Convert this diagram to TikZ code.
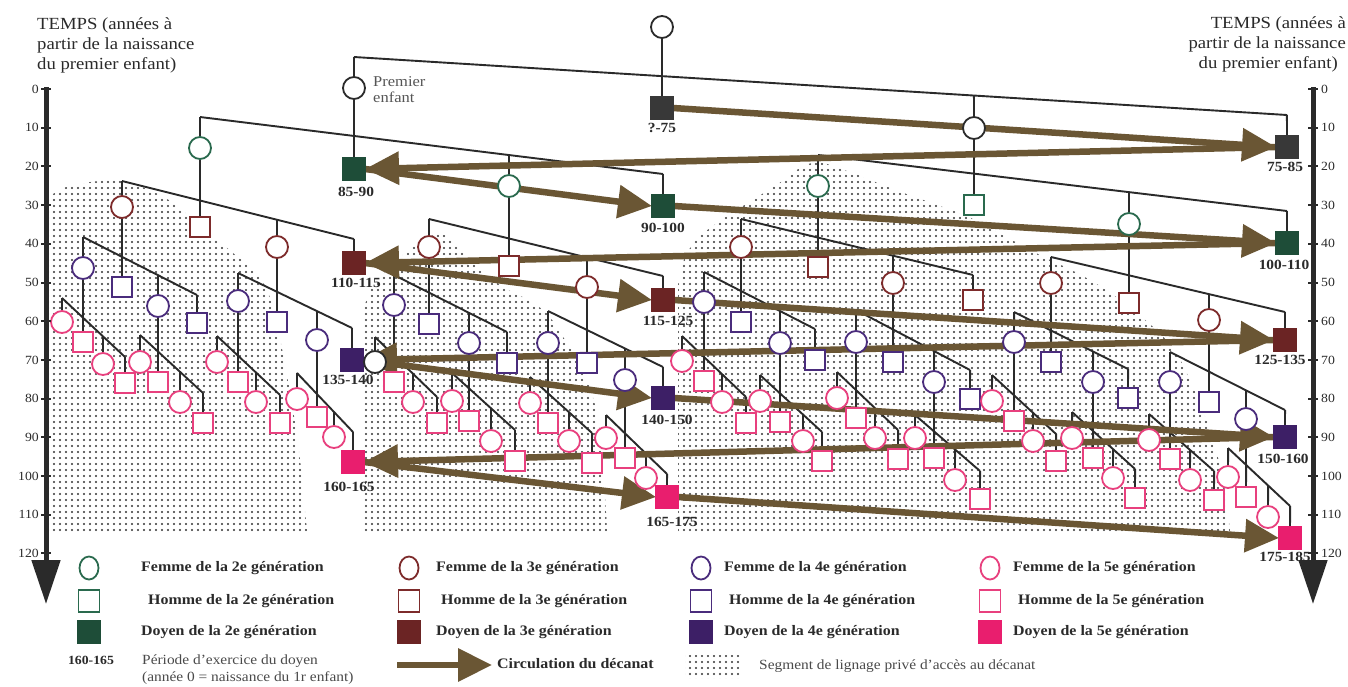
\documentclass[tikz,border=0pt]{standalone}
\usepackage{fontspec}
\setmainfont{Liberation Serif}[FakeStretch=1.1]
\usetikzlibrary{arrows.meta,patterns.meta,shapes.geometric}

\definecolor{ink}{HTML}{2A2A2A}
\definecolor{txt}{HTML}{2A2A2A}
\definecolor{gone}{HTML}{2B2B2B}
\definecolor{gonef}{HTML}{383838}
\definecolor{gtwo}{HTML}{2A6A4E}
\definecolor{gtwof}{HTML}{1E4D38}
\definecolor{gthree}{HTML}{7D2B2B}
\definecolor{gthreef}{HTML}{6B2424}
\definecolor{gfour}{HTML}{4A2C7C}
\definecolor{gfourf}{HTML}{3D1F66}
\definecolor{gfive}{HTML}{E8407E}
\definecolor{gfivef}{HTML}{E91E6E}
\definecolor{flow}{HTML}{6A5634}
\definecolor{stip}{HTML}{333333}

\pgfdeclarelayer{stipple}
\pgfdeclarelayer{lineage}
\pgfdeclarelayer{flows}
\pgfsetlayers{stipple,lineage,flows,main}

% sibling line of one family: children <prefix>a..d hang from it,
% the mother's stem runs down to child <prefix>b
\newcommand\kinfam[4]{%
  \coordinate (#2s) at #3;
  \coordinate (#2e) at #4;
  \draw[kin] (#2s) -- (#2e);
  \foreach \ch in {a,b,c,d}{%
    \draw[kin] (#2\ch.north) -- (intersection of #2s--#2e and #2\ch.north--#2\ch.south);}
  \draw[kin] (#1.south) -- (#2b.north);
}

\tikzset{
  person/.style={inner sep=0pt, outer sep=0pt, line width=1.8pt, fill=white},
  fem/.style={person, circle, minimum size=22pt},
  hom/.style={person, rectangle, minimum size=20pt},
  doy/.style={person, rectangle, minimum size=22pt},
  f1/.style={fem, draw=gone},
  d1/.style={doy, draw=gonef, fill=gonef},
  f2/.style={fem, draw=gtwo},
  h2/.style={hom, draw=gtwo},
  d2/.style={doy, draw=gtwof, fill=gtwof},
  f3/.style={fem, draw=gthree},
  h3/.style={hom, draw=gthree},
  d3/.style={doy, draw=gthreef, fill=gthreef},
  f4/.style={fem, draw=gfour},
  h4/.style={hom, draw=gfour},
  d4/.style={doy, draw=gfourf, fill=gfourf},
  f5/.style={fem, draw=gfive},
  h5/.style={hom, draw=gfive},
  d5/.style={doy, draw=gfivef, fill=gfivef},
  kin/.style={draw=ink, line width=1.9pt},
  dec/.style={draw=flow, line width=6.5pt, -{Triangle[length=34pt,width=32pt]}},
  axisline/.style={draw=ink, line width=5pt, -{Triangle[length=44pt,width=28pt]}},
  tick/.style={draw=ink, line width=2pt},
  dots/.style={pattern={Dots[radius=1.15pt,distance=6pt]}, pattern color=stip},
  lab/.style={font=\bfseries\fontsize{14}{14}\selectfont, text=txt, inner sep=0pt},
  ttl/.style={font=\fontsize{17}{20}\selectfont, text=txt, inner sep=0pt},
  axn/.style={font=\fontsize{12.5}{13}\selectfont, text=txt, inner sep=0pt},
  leg/.style={font=\bfseries\fontsize{14.5}{16}\selectfont, text=txt, inner sep=0pt, anchor=west},
  note/.style={font=\fontsize{14}{16}\selectfont, text=txt!85, inner sep=0pt, anchor=west},
  lfem/.style={person, ellipse, minimum width=19pt, minimum height=23pt},
  lhom/.style={person, rectangle, minimum width=21pt, minimum height=22pt},
  ldoy/.style={person, rectangle, minimum width=22pt, minimum height=22pt},
}

\begin{document}
\begin{tikzpicture}[x=1pt,y=-1pt]
\useasboundingbox (0,0) rectangle (1348,686);

% ---------------- generation 1
\node[f1] (t0) at (662,27) {};
\node[f1] (ka) at (354,88) {};
\node[d1] (kb) at (662,108) {};
\node[f1] (kc) at (974,128) {};
\node[d1] (kd) at (1287,147) {};
% ---------------- generation 2
\node[f2] (g1a) at (200,148) {};
\node[d2] (g1b) at (354,169) {};
\node[f2] (g1c) at (509,186) {};
\node[d2] (g1d) at (663,206) {};
\node[f2] (g2a) at (818,186) {};
\node[h2] (g2b) at (974,205) {};
\node[f2] (g2c) at (1129,224) {};
\node[d2] (g2d) at (1287,243) {};
% ---------------- generation 3
\node[f3] (b1a) at (122,207) {};
\node[h3] (b1b) at (200,227) {};
\node[f3] (b1c) at (277,247) {};
\node[d3] (b1d) at (354,263) {};
\node[f3] (b2a) at (429,247) {};
\node[h3] (b2b) at (509,266) {};
\node[f3] (b2c) at (587,287) {};
\node[d3] (b2d) at (663,300) {};
\node[f3] (b3a) at (741,247) {};
\node[h3] (b3b) at (818,267) {};
\node[f3] (b3c) at (893,283) {};
\node[h3] (b3d) at (973,300) {};
\node[f3] (b4a) at (1051,283) {};
\node[h3] (b4b) at (1129,303) {};
\node[f3] (b4c) at (1209,320) {};
\node[d3] (b4d) at (1285,340) {};
% ---------------- generation 4
\node[f4] (q1a) at (83,268) {};
\node[h4] (q1b) at (122,287) {};
\node[f4] (q1c) at (158,306) {};
\node[h4] (q1d) at (197,323) {};
\node[f4] (q2a) at (238,301) {};
\node[h4] (q2b) at (277,322) {};
\node[f4] (q2c) at (317,340) {};
\node[d4] (q2d) at (352,360) {};
\node[f4] (q3a) at (394,305) {};
\node[h4] (q3b) at (429,324) {};
\node[f4] (q3c) at (469,343) {};
\node[h4] (q3d) at (507,363) {};
\node[f4] (q4a) at (548,343) {};
\node[h4] (q4b) at (587,363) {};
\node[f4] (q4c) at (625,380) {};
\node[d4] (q4d) at (663,398) {};
\node[f4] (q5a) at (704,302) {};
\node[h4] (q5b) at (741,322) {};
\node[f4] (q5c) at (780,343) {};
\node[h4] (q5d) at (815,360) {};
\node[f4] (q6a) at (856,342) {};
\node[h4] (q6b) at (893,362) {};
\node[f4] (q6c) at (934,382) {};
\node[h4] (q6d) at (970,399) {};
\node[f4] (q7a) at (1014,342) {};
\node[h4] (q7b) at (1051,362) {};
\node[f4] (q7c) at (1093,382) {};
\node[h4] (q7d) at (1128,398) {};
\node[f4] (q8a) at (1170,382) {};
\node[h4] (q8b) at (1209,402) {};
\node[f4] (q8c) at (1246,419) {};
\node[d4] (q8d) at (1285,437) {};
% ---------------- generation 5
\node[f5] (r1a) at (62,322) {};   \node[h5] (r1b) at (83,342) {};
\node[f5] (r1c) at (103,364) {};  \node[h5] (r1d) at (125,383) {};
\node[f5] (r2a) at (140,362) {};  \node[h5] (r2b) at (158,382) {};
\node[f5] (r2c) at (180,402) {};  \node[h5] (r2d) at (203,423) {};
\node[f5] (r3a) at (217,362) {};  \node[h5] (r3b) at (238,382) {};
\node[f5] (r3c) at (256,402) {};  \node[h5] (r3d) at (280,423) {};
\node[f5] (r4a) at (297,399) {};  \node[h5] (r4b) at (317,417) {};
\node[f5] (r4c) at (334,437) {};  \node[d5] (r4d) at (353,462) {};
\node[f1] (r5a) at (375,362) {};  \node[h5] (r5b) at (394,382) {};
\node[f5] (r5c) at (413,402) {};  \node[h5] (r5d) at (437,423) {};
\node[f5] (r6a) at (452,401) {};  \node[h5] (r6b) at (469,421) {};
\node[f5] (r6c) at (491,441) {};  \node[h5] (r6d) at (515,461) {};
\node[f5] (r7a) at (530,403) {};  \node[h5] (r7b) at (548,423) {};
\node[f5] (r7c) at (569,441) {};  \node[h5] (r7d) at (592,463) {};
\node[f5] (r8a) at (606,438) {};  \node[h5] (r8b) at (625,458) {};
\node[f5] (r8c) at (646,478) {};  \node[d5] (r8d) at (667,497) {};
\node[f5] (r9a) at (682,361) {};  \node[h5] (r9b) at (704,381) {};
\node[f5] (r9c) at (722,402) {};  \node[h5] (r9d) at (746,423) {};
\node[f5] (r10a) at (760,401) {}; \node[h5] (r10b) at (780,422) {};
\node[f5] (r10c) at (803,441) {}; \node[h5] (r10d) at (822,461) {};
\node[f5] (r11a) at (837,398) {}; \node[h5] (r11b) at (856,418) {};
\node[f5] (r11c) at (875,438) {}; \node[h5] (r11d) at (898,459) {};
\node[f5] (r12a) at (915,438) {}; \node[h5] (r12b) at (934,458) {};
\node[f5] (r12c) at (955,480) {}; \node[h5] (r12d) at (980,499) {};
\node[f5] (r13a) at (992,401) {}; \node[h5] (r13b) at (1014,421) {};
\node[f5] (r13c) at (1033,441) {};\node[h5] (r13d) at (1056,461) {};
\node[f5] (r14a) at (1072,438) {};\node[h5] (r14b) at (1093,458) {};
\node[f5] (r14c) at (1113,478) {};\node[h5] (r14d) at (1135,498) {};
\node[f5] (r15a) at (1149,440) {};\node[h5] (r15b) at (1170,459) {};
\node[f5] (r15c) at (1190,480) {};\node[h5] (r15d) at (1214,500) {};
\node[f5] (r16a) at (1228,477) {};\node[h5] (r16b) at (1246,497) {};
\node[f5] (r16c) at (1268,517) {};\node[d5] (r16d) at (1290,538) {};

% ---------------- terms of office
\node[lab] (p0) at (662,128) {?-75};
\node[lab] (p1) at (1285,167) {75-85};
\node[lab] (p2) at (356,192) {85-90};
\node[lab] (p3) at (663,228) {90-100};
\node[lab] (p4) at (1284,265) {100-110};
\node[lab] (p5) at (356,283) {110-115};
\node[lab] (p6) at (668,321) {115-125};
\node[lab] (p7) at (1280,360) {125-135};
\node[lab] (p8) at (348,380) {135-140};
\node[lab] (p9) at (667,420) {140-150};
\node[lab] (p10) at (1283,459) {150-160};
\node[lab] (p11) at (349,487) {160-165};
\node[lab] (p12) at (672,522) {165-175};
\node[lab] (p13) at (1285,557) {175-185};

\node[font=\fontsize{15}{16}\selectfont, text=txt!80, inner sep=0pt, anchor=base west] (pe1) at (373,86) {Premier};
\node[font=\fontsize{15}{16}\selectfont, text=txt!80, inner sep=0pt, anchor=base west] (pe2) at (373,102) {enfant};

% ---------------- time axes
\node[ttl, anchor=base west] (tl1) at (37,29) {TEMPS (années à};
\node[ttl, anchor=base west] (tl2) at (37,49) {partir de la naissance};
\node[ttl, anchor=base west] (tl3) at (37,69) {du premier enfant)};
\node[ttl, anchor=base east] (tr1) at (1346,28) {TEMPS (années à};
\node[ttl, anchor=base east] (tr2) at (1346,48) {partir de la naissance};
\node[ttl, anchor=base east] (tr3) at (1338,68) {du premier enfant)};

\coordinate (la0) at (46,87);  \coordinate (la1) at (46,604);
\coordinate (ra0) at (1313,87); \coordinate (ra1) at (1313,604);
\draw[axisline] (la0) -- (la1);
\draw[axisline] (ra0) -- (ra1);
\foreach \t in {0,10,...,120}{
  \draw[tick] ({41},{89+3.87*\t}) -- ({51},{89+3.87*\t});
  \draw[tick] ({1308},{89+3.87*\t}) -- ({1318},{89+3.87*\t});
  \node[axn, anchor=east] (ln\t) at ({39},{89+3.87*\t}) {\t};
  \node[axn, anchor=west] (rn\t) at ({1321},{89+3.87*\t}) {\t};
}

% ---------------- legend
\node[lfem, draw=gtwo] (lg1) at (89,568) {};
\node[lhom, draw=gtwo] (lg2) at (89,601) {};
\node[ldoy, draw=gtwof, fill=gtwof] (lg3) at (89,632) {};
\node[leg] (lt1) at (141,568) {Femme de la 2e génération};
\node[leg] (lt2) at (148,601) {Homme de la 2e génération};
\node[leg] (lt3) at (141,632) {Doyen de la 2e génération};

\node[lfem, draw=gthree] (lg4) at (409,568) {};
\node[lhom, draw=gthree] (lg5) at (409,601) {};
\node[ldoy, draw=gthreef, fill=gthreef] (lg6) at (409,632) {};
\node[leg] (lt4) at (436,568) {Femme de la 3e génération};
\node[leg] (lt5) at (441,601) {Homme de la 3e génération};
\node[leg] (lt6) at (436,632) {Doyen de la 3e génération};

\node[lfem, draw=gfour] (lg7) at (701,568) {};
\node[lhom, draw=gfour] (lg8) at (701,601) {};
\node[ldoy, draw=gfourf, fill=gfourf] (lg9) at (701,632) {};
\node[leg] (lt7) at (724,568) {Femme de la 4e génération};
\node[leg] (lt8) at (729,601) {Homme de la 4e génération};
\node[leg] (lt9) at (724,632) {Doyen de la 4e génération};

\node[lfem, draw=gfive] (lg10) at (990,568) {};
\node[lhom, draw=gfive] (lg11) at (990,601) {};
\node[ldoy, draw=gfivef, fill=gfivef] (lg12) at (990,632) {};
\node[leg] (lt10) at (1013,568) {Femme de la 5e génération};
\node[leg] (lt11) at (1018,601) {Homme de la 5e génération};
\node[leg] (lt12) at (1013,632) {Doyen de la 5e génération};

\node[lab, font=\bfseries\fontsize{12.5}{13}\selectfont] (lk1) at (91,660) {160-165};
\node[note] (lk2) at (142,661) {Période d'exercice du doyen};
\node[note] (lk3) at (142,678) {(année 0 = naissance du 1r enfant)};
\coordinate (lf0) at (397,665); \coordinate (lf1) at (492,665);
\node[leg] (lk4) at (497,664) {Circulation du décanat};
\node[note] (lk5) at (759,666) {Segment de lignage privé d'accès au décanat};

% ---------------- lineage lines
\begin{pgfonlayer}{lineage}
\draw[kin] (t0.south) -- (kb.north);
\kinfam{t0}{k}{(354,57)}{(1287,115)}
\kinfam{ka}{g1}{(200,117)}{(663,174)}
\kinfam{kc}{g2}{(818,155)}{(1287,211)}
\kinfam{g1a}{b1}{(122,181)}{(354,239)}
\kinfam{g1c}{b2}{(429,219)}{(663,276)}
\kinfam{g2a}{b3}{(741,219)}{(973,275)}
\kinfam{g2c}{b4}{(1051,257)}{(1285,312)}
\kinfam{b1a}{q1}{(83,237)}{(197,295)}
\kinfam{b1c}{q2}{(238,273)}{(352,328)}
\kinfam{b2a}{q3}{(394,275)}{(507,332)}
\kinfam{b2c}{q4}{(548,311)}{(663,367)}
\kinfam{b3a}{q5}{(704,272)}{(815,329)}
\kinfam{b3c}{q6}{(856,310)}{(970,370)}
\kinfam{b4a}{q7}{(1014,312)}{(1128,369)}
\kinfam{b4c}{q8}{(1170,352)}{(1285,410)}
\kinfam{q1a}{r1}{(62,298)}{(125,357)}
\kinfam{q1c}{r2}{(140,335)}{(203,393)}
\kinfam{q2a}{r3}{(217,336)}{(280,395)}
\kinfam{q2c}{r4}{(297,373)}{(353,432)}
\kinfam{q3a}{r5}{(375,337)}{(437,397)}
\kinfam{q3c}{r6}{(452,373)}{(515,430)}
\kinfam{q4a}{r7}{(530,377)}{(592,433)}
\kinfam{q4c}{r8}{(606,415)}{(667,474)}
\kinfam{q5a}{r9}{(682,336)}{(746,397)}
\kinfam{q5c}{r10}{(760,375)}{(822,432)}
\kinfam{q6a}{r11}{(837,372)}{(898,430)}
\kinfam{q6c}{r12}{(915,415)}{(980,471)}
\kinfam{q7a}{r13}{(992,375)}{(1056,434)}
\kinfam{q7c}{r14}{(1072,412)}{(1135,469)}
\kinfam{q8a}{r15}{(1149,414)}{(1214,471)}
\kinfam{q8c}{r16}{(1228,448)}{(1290,506)}
\end{pgfonlayer}

% ---------------- passing of the deanship
\begin{pgfonlayer}{flows}
\draw[dec] (kb.east) -- (kd.west);
\draw[dec] (kd.west) -- (g1b.east);
\draw[dec] (g1b.east) -- (g1d.west);
\draw[dec] (g1d.east) -- (g2d.west);
\draw[dec] (g2d.west) -- (b1d.east);
\draw[dec] (b1d.east) -- (b2d.west);
\draw[dec] (b2d.east) -- (b4d.west);
\draw[dec] (b4d.west) -- (q2d.east);
\draw[dec] (q2d.east) -- (q4d.west);
\draw[dec] (q4d.east) -- (q8d.west);
\draw[dec] (q8d.west) -- (r4d.east);
\draw[dec] (r4d.east) -- (r8d.west);
\draw[dec] (r8d.east) -- (r16d.west);
\draw[dec] (lf0) -- (lf1);
\end{pgfonlayer}

% ---------------- segments without access to the deanship
\begin{pgfonlayer}{stipple}
\fill[white] (0,0) rectangle (1348,686);
\fill[dots] (48,532) -- plot[smooth, tension=0.6] coordinates {(48,198) (70,186) (120,181) (167,199) (200,226) (233,253) (260,278) (274,310) (284,360) (293,410) (300,460) (307,532)} -- cycle;
\fill[dots] (362,532) -- plot[smooth, tension=0.6] coordinates {(362,315) (372,288) (395,262) (418,243) (440,234) (458,246) (478,268) (505,288) (530,301) (548,315) (565,340) (583,372) (595,405) (602,450) (607,532)} -- cycle;
\fill[dots] (678,532) -- plot[smooth, tension=0.6] coordinates {(678,285) (686,255) (705,232) (740,208) (775,186) (812,163) (850,172) (890,188) (940,206) (975,220) (1030,250) (1090,280) (1133,310) (1172,347) (1195,392) (1213,440) (1225,490) (1230,532)} -- cycle;
\fill[dots] (685,655) rectangle (741,678);
\end{pgfonlayer}
\end{tikzpicture}
\end{document}
